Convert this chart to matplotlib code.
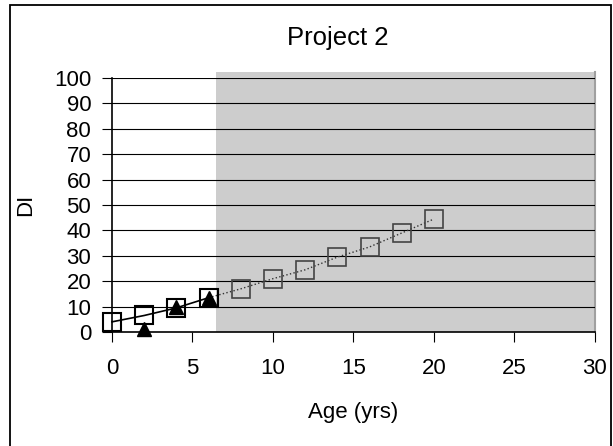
import matplotlib
matplotlib.use("Agg")
from matplotlib import pyplot as plt
from matplotlib.patches import Rectangle

plt.rcParams['font.family'] = ['Liberation Sans', 'DejaVu Sans']

# data
age_model = [0, 2, 4, 6, 8, 10, 12, 14, 16, 18, 20]
di_model = [4, 6.5, 9.5, 13.5, 17, 21, 24.5, 29.5, 33.5, 39, 44.5]
age_obs = [2, 4, 6]
di_obs = [1, 10, 13.5]
shade_start = 6.45

fig = plt.figure(figsize=(6.13, 4.46), dpi=100)
# chart frame, cut by the image at right and bottom
fig.patches.append(Rectangle((0.0163, -0.01), 0.981, 0.9977, transform=fig.transFigure,
                             fill=False, edgecolor='black', linewidth=1.3))
ax = fig.add_axes([0.1827, 0.2556, 0.7879, 0.5694])

# grey band for the projected part
ax.add_patch(Rectangle((shade_start, 0), 30 - shade_start, 102.5, facecolor='#cdcdcd',
                       edgecolor='none', clip_on=False, zorder=0))
ax.plot([30, 30], [0, 102.5], color='#a0a0a0', linewidth=1.5, clip_on=False, zorder=0)

for v in range(10, 101, 10):
    ax.axhline(v, color='black', linewidth=0.8, zorder=1)

# solid part and projected part of the curve
n = age_model.index(6) + 1
ax.plot(age_model[:n], di_model[:n], color='black', linewidth=1.2, marker='s',
        markersize=13, markerfacecolor='none', markeredgecolor='black',
        markeredgewidth=1.5, zorder=3, clip_on=False)
ax.plot(age_model[n - 1:], di_model[n - 1:], color='#333333', linewidth=1, linestyle=':',
        zorder=3)
ax.plot(age_model[n:], di_model[n:], linestyle='none', marker='s', markersize=13,
        markerfacecolor='none', markeredgecolor='#444444', markeredgewidth=1.2, zorder=3)
ax.plot(age_obs, di_obs, linestyle='none', marker='^', markersize=10, color='black',
        zorder=4, clip_on=False)

ax.set_xlim(0, 30)
ax.set_ylim(0, 100)
ax.set_xticks(range(0, 31, 5))
ax.set_yticks(range(0, 101, 10))
ax.tick_params(direction='out', length=7, labelsize=16, color='black')
ax.tick_params(axis='x', pad=12)
ax.tick_params(axis='y', pad=8)
for s in ['top', 'right']:
    ax.spines[s].set_visible(False)
ax.spines['left'].set_linewidth(1.2)
ax.spines['bottom'].set_linewidth(1.2)
ax.set_facecolor('white')

ax.set_xlabel('Age (yrs)', fontsize=16, labelpad=16)
ax.set_ylabel('DI', fontsize=16, labelpad=13)
fig.text(0.551, 0.915, 'Project 2', ha='center', va='center', fontsize=18.5)

fig.savefig('out.png', dpi=100)
